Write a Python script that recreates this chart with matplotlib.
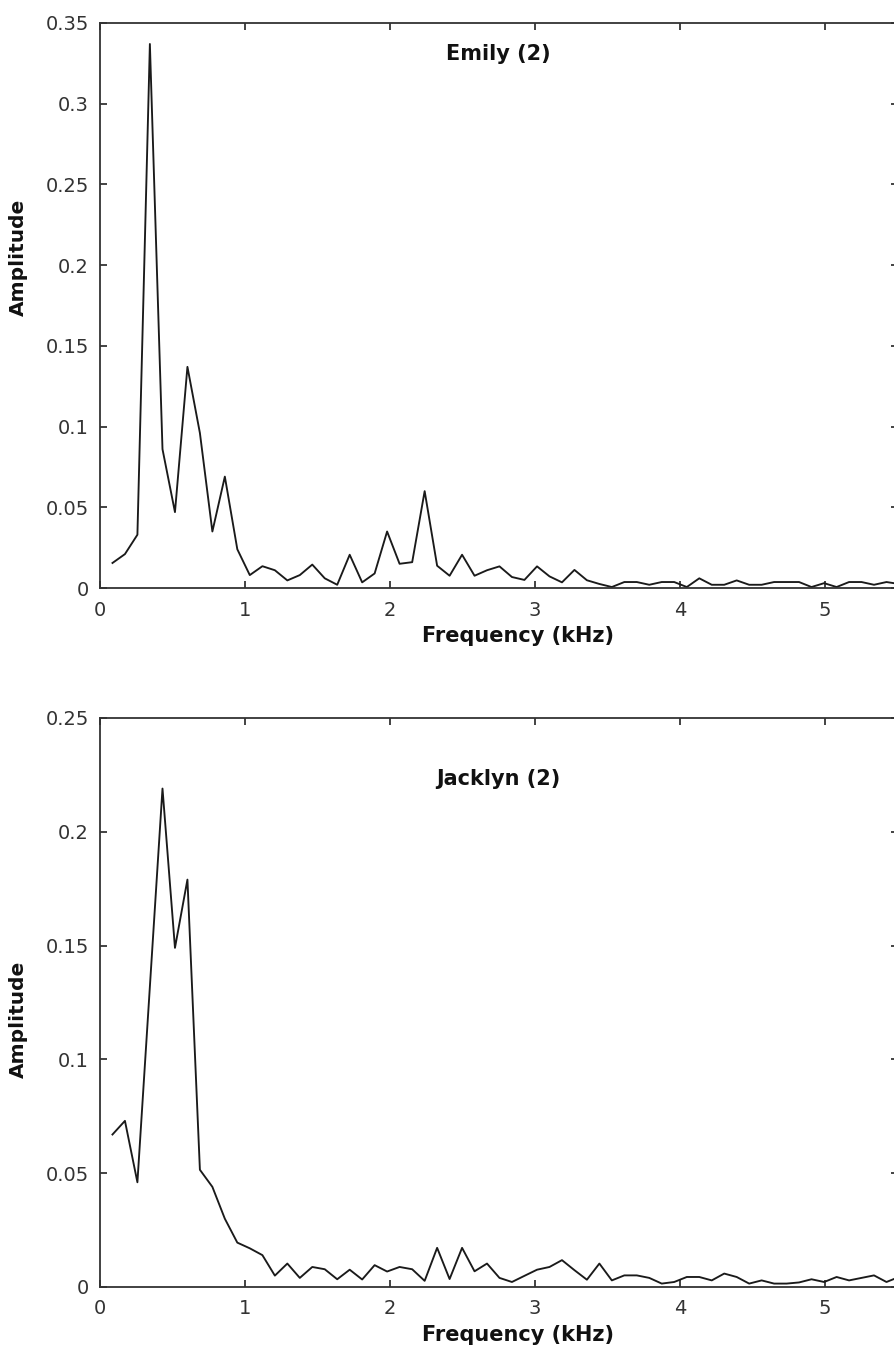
import matplotlib
matplotlib.use("Agg")
import matplotlib.pyplot as plt

# Frequency bins (kHz)
freq_khz = [0.086, 0.172, 0.258, 0.344, 0.431, 0.517, 0.603, 0.689, 0.775, 0.861,
            0.947, 1.033, 1.120, 1.206, 1.292, 1.378, 1.464, 1.550, 1.636, 1.722,
            1.808, 1.894, 1.980, 2.066, 2.153, 2.239, 2.325, 2.411, 2.497, 2.583,
            2.669, 2.755, 2.841, 2.927, 3.014, 3.100, 3.186, 3.272, 3.358, 3.444,
            3.530, 3.616, 3.702, 3.788, 3.874, 3.960, 4.047, 4.133, 4.219, 4.305,
            4.391, 4.477, 4.563, 4.649, 4.735, 4.821, 4.907, 4.994, 5.080, 5.166,
            5.252, 5.338, 5.424, 5.510]

emily_amp = [0.0155, 0.021, 0.033, 0.337, 0.086, 0.047, 0.137, 0.096, 0.035, 0.069,
             0.024, 0.008, 0.0135, 0.011, 0.0047, 0.008, 0.0145, 0.006, 0.002, 0.0206,
             0.0035, 0.009, 0.035, 0.015, 0.016, 0.060, 0.0138, 0.0076, 0.0206, 0.0076,
             0.011, 0.0134, 0.0068, 0.005, 0.0134, 0.0072, 0.0035, 0.0112, 0.0048, 0.0025,
             0.0006, 0.0037, 0.0037, 0.002, 0.0037, 0.0037, 0.0006, 0.006, 0.002, 0.002,
             0.0047, 0.002, 0.002, 0.0037, 0.0037, 0.0037, 0.0006, 0.003, 0.0006, 0.0037,
             0.0037, 0.002, 0.0037, 0.0025]

jacklyn_amp = [0.067, 0.073, 0.046, 0.132, 0.219, 0.149, 0.179, 0.0515, 0.044, 0.030,
               0.0195, 0.017, 0.014, 0.005, 0.0103, 0.004, 0.0088, 0.0078, 0.0034, 0.0076,
               0.0033, 0.0096, 0.0068, 0.0088, 0.0078, 0.0027, 0.0172, 0.0035, 0.0172, 0.0069,
               0.0103, 0.004, 0.0022, 0.0049, 0.0076, 0.0088, 0.0118, 0.0074, 0.0032, 0.0103,
               0.0029, 0.0051, 0.0051, 0.004, 0.0015, 0.0022, 0.0044, 0.0044, 0.0029, 0.0059,
               0.0044, 0.0015, 0.0029, 0.0015, 0.0015, 0.002, 0.0034, 0.0022, 0.0044, 0.0029,
               0.004, 0.0051, 0.0022, 0.0044]

x_ticks = [0, 1, 2, 3, 4, 5]
emily_yticks = [0, 0.05, 0.1, 0.15, 0.2, 0.25, 0.3, 0.35]
emily_ylabels = ["0", "0.05", "0.1", "0.15", "0.2", "0.25", "0.3", "0.35"]
jacklyn_yticks = [0, 0.05, 0.1, 0.15, 0.2, 0.25]
jacklyn_ylabels = ["0", "0.05", "0.1", "0.15", "0.2", "0.25"]

titles = ["Emily (2)", "Jacklyn (2)"]

W, H = 894, 1352
fig = plt.figure(figsize=(W / 100, H / 100), dpi=100)
fig.patch.set_facecolor("white")

def px_axes(left, top, right, bottom):
    return fig.add_axes([left / W, 1 - bottom / H, (right - left) / W, (bottom - top) / H])

ax1 = px_axes(100, 23, 897.5, 588)
ax2 = px_axes(100, 718, 897.5, 1287)

panels = [
    (ax1, emily_amp, emily_yticks, emily_ylabels, 0.35, titles[0], 0.945, 0.586),
    (ax2, jacklyn_amp, jacklyn_yticks, jacklyn_ylabels, 0.25, titles[1], 0.893, 0.47),
]

for ax, amp, yt, yl, ymax, title, ty, ly in panels:
    ax.plot(freq_khz, amp, color="#1a1a1a", linewidth=1.35)
    ax.set_xlim(0, 5.5)
    ax.set_ylim(0, ymax)
    ax.set_xticks(x_ticks)
    ax.set_xticklabels([str(t) for t in x_ticks])
    ax.set_yticks(yt)
    ax.set_yticklabels(yl)
    ax.tick_params(direction="in", length=5, width=1.2, color="#222222",
                   top=True, right=True, labelsize=14, labelcolor="#333333")
    ax.tick_params(axis="x", pad=9)
    ax.tick_params(axis="y", pad=8)
    for s in ax.spines.values():
        s.set_linewidth(1.3)
        s.set_color("#333333")
    ax.text(0.5, ty, title, transform=ax.transAxes, ha="center", va="center",
            fontsize=15, fontweight="bold", family="DejaVu Sans", color="#111111")
    ax.set_xlabel("Frequency (kHz)", fontsize=15, fontweight="bold", color="#111111")
    ax.xaxis.set_label_coords(0.524, -0.067)
    ax.set_ylabel("Amplitude", fontsize=14.5, fontweight="bold", color="#111111")
    ax.yaxis.set_label_coords(-0.090, ly)

fig.savefig("out.png", dpi=100, facecolor="white")
